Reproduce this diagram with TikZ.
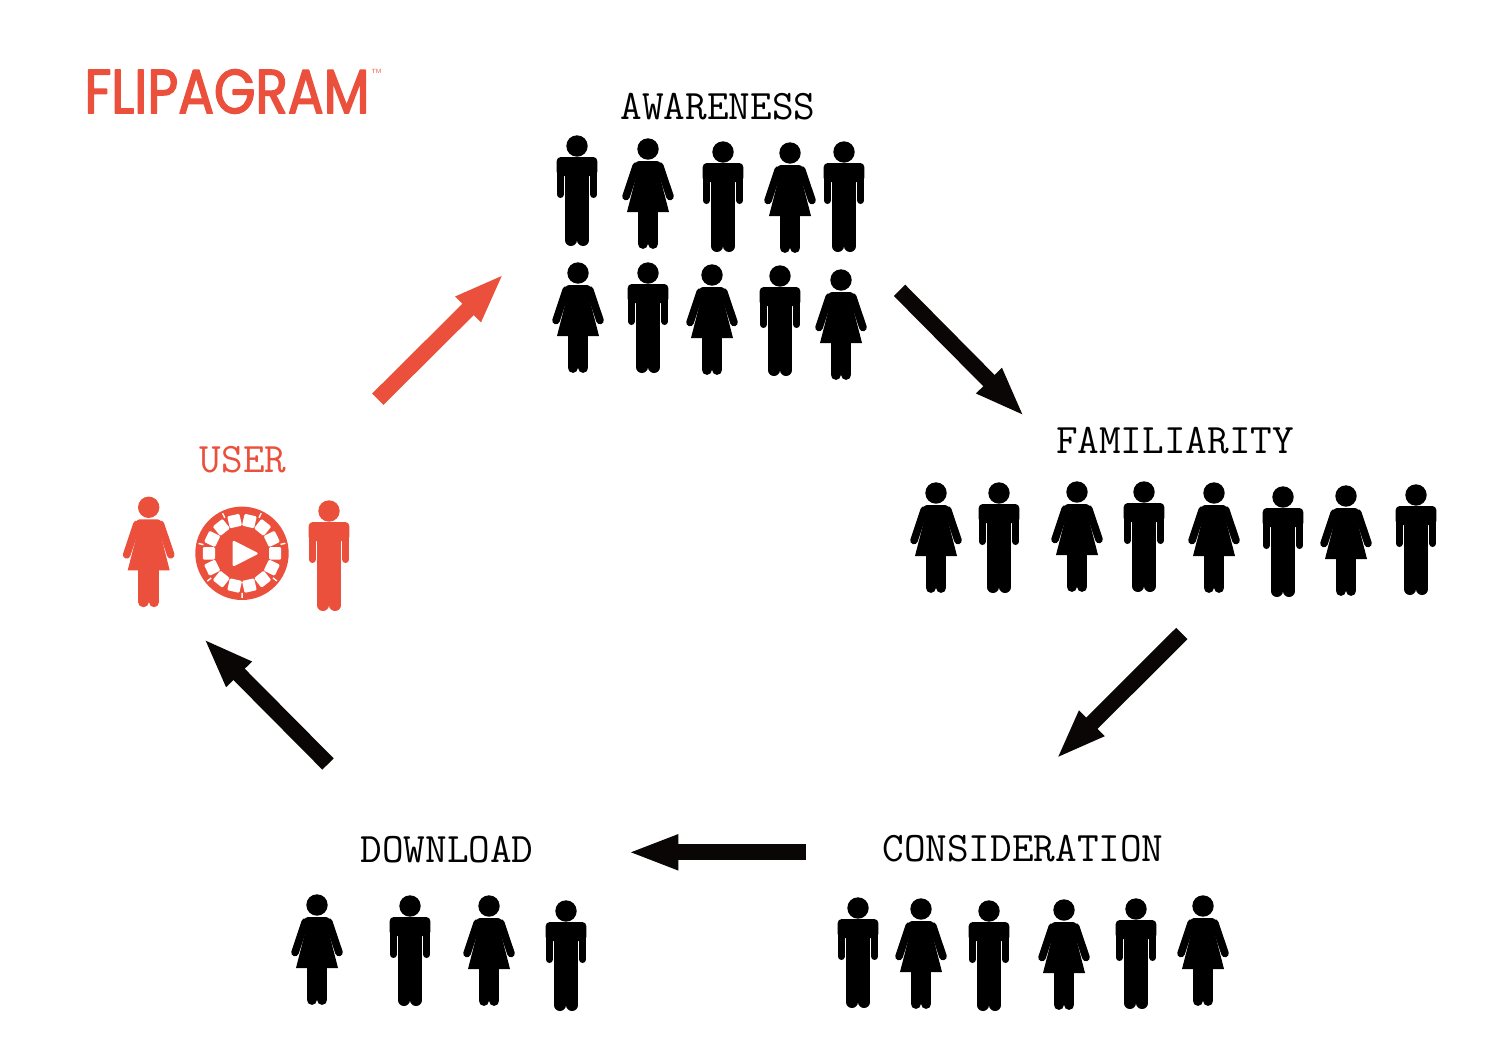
\documentclass[tikz,border=0pt]{standalone}
\usepackage{fontspec}
\usetikzlibrary{arrows.meta}
\newfontfamily\logofont[FakeStretch=0.72,FakeBold=2]{Poppins}
\definecolor{ored}{HTML}{EB503C}
\definecolor{arrowblack}{HTML}{0A0606}
\tikzset{
  x=0.5pt,y=-0.5pt,
  stagelabel/.style={font=\ttfamily\fontsize{21}{24}\selectfont,inner sep=0pt,anchor=center},
  flow/.style={line width=8pt,shorten >=-1.8pt,-{Triangle[width=16pt,length=25.5pt]},arrowblack},
  flowred/.style={flow,ored},
  man/.pic={
    \fill (0,0) circle (10.7);
    \fill[rounded corners=2pt] (-20.3,11) rectangle (20.3,30);
    \fill (-12.4,20) rectangle (12.4,64);
    \draw[line width=3.4pt,line cap=round] (-16.7,22) -- (-16.7,48.6);
    \draw[line width=3.4pt,line cap=round] (16.7,22) -- (16.7,48.6);
    \draw[line width=5.9pt,line cap=round] (-6.1,55) -- (-6.1,94.1);
    \draw[line width=5.9pt,line cap=round] (6.1,55) -- (6.1,94.1);
  },
  woman/.pic={
    \fill (0,0) circle (10.7);
    \fill (-12,28) -- (12,28) -- (21,63) -- (-21,63) -- cycle;
    \fill[rounded corners=1.5pt] (-12,12) -- (12,12) -- (13,20) -- (12,30) -- (-12,30) -- (-13,20) -- cycle;
    \draw[line width=3.8pt,line cap=round] (-11.8,17) -- (-22,47.5);
    \draw[line width=3.8pt,line cap=round] (11.8,17) -- (22,47.5);
    \draw[line width=5.1pt,line cap=round] (-5.3,60) -- (-5.3,94.8);
    \draw[line width=5.1pt,line cap=round] (5.3,60) -- (5.3,94.8);
  },
}
\begin{document}
\begin{tikzpicture}
\useasboundingbox (0,0) rectangle (1500,1050);
\fill[white] (0,0) rectangle (1500,1050);

% logo
\node[ored,inner sep=0pt,anchor=center,line join=round,line cap=round] (logo) at (227,91.5)
  {\resizebox{142.5pt}{22pt}{\logofont FLIPAGRAM}};
\node[ored,inner sep=0pt,font=\fontsize{3}{3}\selectfont\sffamily] (tm) at (376.5,71.5) {TM};

% labels
\node[stagelabel] (awareness) at (718,107) {AWARENESS};
\node[stagelabel] (familiarity) at (1175,441) {FAMILIARITY};
\node[stagelabel] (consideration) at (1023,849) {CONSIDERATION};
\node[stagelabel] (download) at (447,850) {DOWNLOAD};
\node[stagelabel,text=ored] (user) at (243,460) {USER};

% people
\foreach \px/\py in {577/146,723/152,844/152,648/273,780/276,
  999/493,1144/492,1283/497,1416/495,
  858/908,989/911,1136/909,
  410/906,566/911}
  \pic[color=black] at (\px,\py) {man};
\foreach \px/\py in {648/149,790/153,578/273,712/275,841/280,
  936/493,1077/492,1214/493,1346/496,
  921/909,1064/910,1203/906,
  317/905,489/906}
  \pic[color=black] at (\px,\py) {woman};
\pic[color=ored] at (148.7,507.3) {woman};
\pic[color=ored] at (329,511) {man};

% app icon
\fill[ored] (242,553.3) circle (46.7);
\foreach \k in {0,...,13}
  \fill[white,rounded corners=0.6pt,shift={(242,553.3)},rotate=\k*25.714]
    (27,-6.2) rectangle (39.2,6.2);
\foreach \k in {0,...,6}
  \draw[white,line width=0.7pt,shift={(242,553.3)},rotate=13+\k*51.43] (39.5,0) -- (44.5,0);
\fill[white,rounded corners=1.2pt] (232.5,540) -- (259,553.5) -- (232.5,567) -- cycle;

% connector ends
\coordinate (uo) at (377.8,399.2);
\coordinate (ai) at (501.7,276);
\coordinate (ao) at (899.5,290.3);
\coordinate (fi) at (1022.3,414.3);
\coordinate (fo) at (1181.8,633.5);
\coordinate (ci) at (1058.3,756.7);
\coordinate (co) at (805.5,852.3);
\coordinate (di) at (631,852.3);
\coordinate (do) at (328,764);
\coordinate (ui) at (205.7,640.7);

\draw[flowred] (uo) -- (ai);
\draw[flow] (ao) -- (fi);
\draw[flow] (fo) -- (ci);
\draw[flow] (co) -- (di);
\draw[flow] (do) -- (ui);
\end{tikzpicture}
\end{document}
